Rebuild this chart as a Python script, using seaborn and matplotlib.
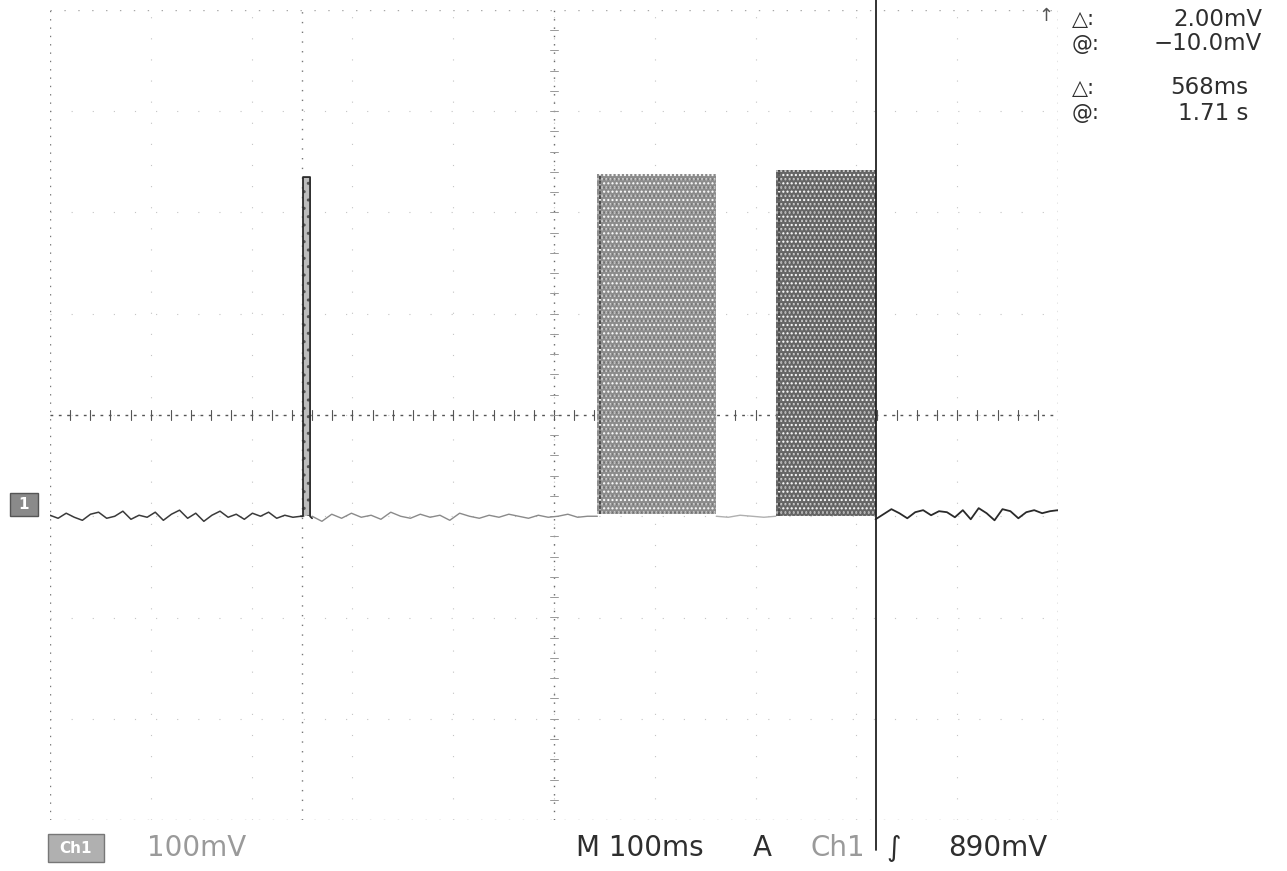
import numpy as np
import pandas as pd
import matplotlib
matplotlib.use("Agg")
import matplotlib.pyplot as plt
import seaborn as sns
from matplotlib.patches import Rectangle

# ---------------- data (time in ms, amplitude in divisions) ----------------
seg_a_span = [0, 249]
seg_a = [-0.99, -1.02, -0.97, -1.01, -1.04, -0.98, -0.96, -1.02, -1.00, -0.95,
         -1.03, -0.99, -1.01, -0.96, -1.04, -0.98, -0.94, -1.02, -0.97, -1.05,
         -0.99, -0.95, -1.01, -0.98, -1.03, -0.97, -1.00, -0.96, -1.02, -0.99,
         -1.01, -1.00]
spike_t = [249, 251, 251, 258, 258, 260]
spike_y = [-1.00, -1.00, 2.35, 2.35, -1.00, -1.02]
seg_b_span = [260, 543]
seg_b = [-1.00, -1.05, -0.98, -1.02, -0.97, -1.01, -0.99, -1.03, -0.96, -1.00,
         -1.02, -0.98, -1.01, -0.99, -1.04, -0.97, -1.00, -1.02, -0.99, -1.01,
         -0.98, -1.00, -1.02, -0.99, -1.01, -1.00, -0.98, -1.01, -1.00, -1.00]
seg_c_span = [661, 720]
seg_c = [-1.00, -1.01, -0.99, -1.00, -1.01, -1.00]
seg_d_span = [819, 1000]
seg_d = [-1.03, -0.98, -0.93, -0.97, -1.02, -0.96, -0.94, -0.99, -0.95, -0.96,
         -1.01, -0.94, -1.03, -0.92, -0.97, -1.04, -0.93, -0.95, -1.02, -0.96,
         -0.94, -0.97, -0.95, -0.94]
# burst envelopes: [start ms, end ms, top div, bottom div]
burst1 = [543, 661, 2.38, -0.98]
burst2 = [720, 819, 2.42, -1.00]
cursor_t = 819

readout_labels = ["\u25b3:", "@:", "\u25b3:", "@:"]
readout_values = ["2.00mV", "\u221210.0mV", "568ms", "1.71 s"]
ch_scale = "100mV"
timebase = "M 100ms"
trig_src = ["A", "Ch1"]
trig_level = "890mV"

# ---------------- figure ----------------
sns.set_style("white")
plt.rcParams['font.family'] = ['DejaVu Sans']
W, H = 1287, 871
fig = plt.figure(figsize=(W / 100, H / 100), dpi=100)
ax = fig.add_axes([50 / W, 1 - 820 / H, 1008 / W, 810 / H])
ax.set_xlim(0, 1000)
ax.set_ylim(-4, 4)
for s in ax.spines.values():
    s.set_visible(False)
ax.set_xticks([]); ax.set_yticks([])

# graticule
for gx in range(100, 1000, 100):
    ax.axvline(gx, color="#c4c4c4", lw=0.8, ls=(0, (1, 18)), zorder=1)
for gy in range(-3, 4):
    ax.axhline(gy, color="#c4c4c4", lw=0.8, ls=(0, (1, 18)), zorder=1)
for gx in (0, 1000):
    ax.axvline(gx, color="#777777", lw=1.0, ls=(0, (1, 5)), zorder=1)
for gy in (-4, 4):
    ax.axhline(gy, color="#a8a8a8", lw=1.0, ls=(0, (1, 9)), zorder=1)
ax.axvline(250, color="#777777", lw=1.0, ls=(0, (1, 6)), zorder=1)
ax.axvline(500, color="#666666", lw=1.0, ls=(0, (1, 5)), zorder=1)
ax.axhline(0, color="#555555", lw=1.0, ls=(0, (2, 4)), zorder=1)
for tx in np.arange(20, 1000, 20):
    ax.plot([tx, tx], [-0.05, 0.05], color="#555555", lw=0.8, zorder=1)
for ty in np.arange(-3.8, 4, 0.2):
    ax.plot([496, 504], [ty, ty], color="#999999", lw=0.7, zorder=1)

def seg_frame(span, vals):
    t = np.linspace(span[0], span[1], len(vals))
    return pd.DataFrame({"t": t, "v": vals})

sns.lineplot(data=seg_frame(seg_a_span, seg_a), x="t", y="v", ax=ax,
             color="#3a3a3a", lw=1.1, estimator=None, sort=False)
ax.fill_between([251, 258], [2.35, 2.35], [-1.0, -1.0], facecolor="#bdbdbd",
                edgecolor="#555555", hatch="..", lw=0, zorder=2)
sns.lineplot(data=pd.DataFrame({"t": spike_t, "v": spike_y}), x="t", y="v",
             ax=ax, color="#2a2a2a", lw=1.3, estimator=None, sort=False)
sns.lineplot(data=seg_frame(seg_b_span, seg_b), x="t", y="v", ax=ax,
             color="#8a8a8a", lw=1.0, estimator=None, sort=False)
sns.lineplot(data=seg_frame(seg_c_span, seg_c), x="t", y="v", ax=ax,
             color="#b0b0b0", lw=1.0, estimator=None, sort=False)
sns.lineplot(data=seg_frame(seg_d_span, seg_d), x="t", y="v", ax=ax,
             color="#2a2a2a", lw=1.3, estimator=None, sort=False)

# bursts
plt.rcParams['hatch.linewidth'] = 1.0
for b, fc in ((burst1, "#8c8c8c"), (burst2, "#666666")):
    ax.fill_between([b[0], b[1]], [b[2], b[2]], [b[3], b[3]],
                    facecolor=fc, edgecolor="white", hatch="....", lw=0, zorder=3)
    ax.fill_between([b[0], b[1]], [b[2], b[2]], [b[3], b[3]],
                    facecolor="none", edgecolor="#3c3c3c", hatch="--", lw=0,
                    alpha=0.35, zorder=3)
    ax.plot([b[0] + 3, b[0] + 3], [b[3], b[2]], color="#444444", lw=1.2,
            ls=(0, (2, 1)), zorder=4)

# cursor
ax.plot([cursor_t, cursor_t], [4.1, -4.3], color="#222222", lw=1.3,
        clip_on=False, zorder=5)

# channel ground marker
fig.patches.append(Rectangle((10 / W, 1 - 516 / H), 28 / W, 23 / H,
                             transform=fig.transFigure, facecolor="#8a8a8a",
                             edgecolor="#555555", lw=1))
fig.text(24 / W, 1 - 504.5 / H, "1", fontsize=11, color="white",
         ha="center", va="center", fontweight="bold")
# channel box bottom-left
fig.patches.append(Rectangle((48 / W, 1 - 862 / H), 56 / W, 28 / H,
                             transform=fig.transFigure, facecolor="#b0b0b0",
                             edgecolor="#777777", lw=1))
fig.text(76 / W, 1 - 848 / H, "Ch1", fontsize=11, color="white",
         ha="center", va="center", fontweight="bold")

# trigger position marker
fig.text(1046 / W, 1 - 16 / H, "\u2191", fontsize=13, color="#555555",
         ha="center", va="center")

# readouts
tc = "#2e2e2e"
FS = 20
ys = [19, 44, 88, 113]
xr = [1262, 1262, 1248, 1248]
for lab, val, y, x in zip(readout_labels, readout_values, ys, xr):
    fig.text(1072 / W, 1 - y / H, lab, fontsize=15, color=tc, ha="left", va="center")
    fig.text(x / W, 1 - y / H, val, fontsize=16.5, color=tc, ha="right", va="center")

# bottom status line
yb = 1 - 848 / H
fig.text(147 / W, yb, ch_scale, fontsize=FS, color="#9a9a9a", ha="left", va="center")
fig.text(576 / W, yb, timebase, fontsize=FS, color=tc, ha="left", va="center")
fig.text(753 / W, yb, trig_src[0], fontsize=FS, color=tc, ha="left", va="center")
fig.text(810 / W, yb, trig_src[1], fontsize=FS, color="#9a9a9a", ha="left", va="center")
fig.text(886 / W, yb, "\u222b", fontsize=FS, color=tc, ha="left", va="center")
fig.text(948 / W, yb, trig_level, fontsize=FS, color=tc, ha="left", va="center")

fig.savefig("out.png", dpi=100, facecolor="white")
